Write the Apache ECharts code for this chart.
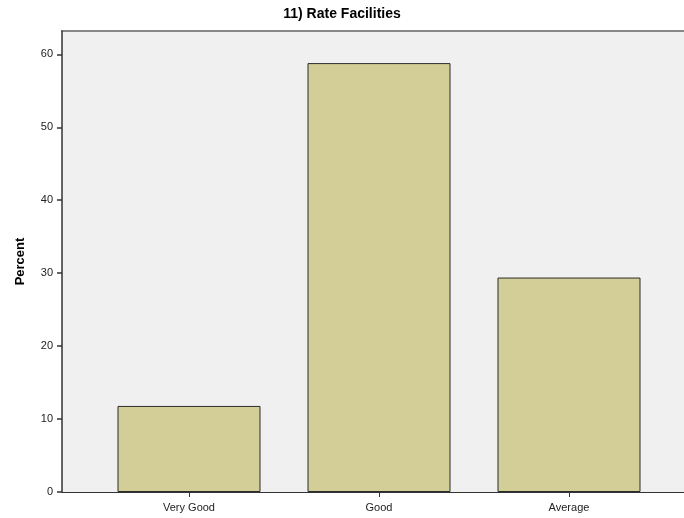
<!DOCTYPE html>
<html>
<head>
<meta charset="utf-8">
<script src="https://cdn.jsdelivr.net/npm/echarts@6/dist/echarts.min.js"></script>
<style>
html,body{margin:0;padding:0;background:#fff;}
#chart{width:684px;height:518px;}
</style>
</head>
<body>
<div id="chart"></div>
<script>
const categories = ["Very Good", "Good", "Average"];
const percentValues = [11.8, 58.8, 29.4];
const yTicks = [0, 10, 20, 30, 40, 50, 60];
const titleText = "11) Rate Facilities";
const yAxisName = "Percent";

const chart = echarts.init(document.getElementById('chart'), null, {renderer: 'canvas'});
const font = '"Liberation Sans", Arial, sans-serif';
chart.setOption({
  animation: false,
  backgroundColor: '#ffffff',
  title: {
    text: titleText,
    left: 'center',
    top: 2,
    textStyle: {fontFamily: font, fontSize: 14, fontWeight: 'bold', color: '#000'}
  },
  grid: [
    {left: 94, right: 20, top: 31, bottom: 26, containLabel: false, z: 2},
    {left: 62, right: 0, top: 31, bottom: 26, show: true, backgroundColor: '#f0f0f0', borderWidth: 0, z: 0}
  ],
  xAxis: [
    {
      type: 'category', gridIndex: 0, data: categories, z: 3,
      axisLine: {show: false},
      axisTick: {show: true, alignWithLabel: true, length: 5, lineStyle: {color: '#333'}},
      axisLabel: {fontFamily: font, fontSize: 11, color: '#222', margin: 10}
    },
    {
      type: 'value', gridIndex: 1, position: 'bottom', min: 0, max: 1, z: 3,
      axisLine: {show: true, lineStyle: {color: '#333', width: 1}},
      axisTick: {show: false}, axisLabel: {show: false}, splitLine: {show: false}
    },
    {
      type: 'value', gridIndex: 1, position: 'top', min: 0, max: 1, z: 3,
      axisLine: {show: true, lineStyle: {color: '#888', width: 2}},
      axisTick: {show: false}, axisLabel: {show: false}, splitLine: {show: false}
    }
  ],
  yAxis: [
    {
      type: 'value', gridIndex: 0, min: 0, max: 63.2, interval: 10, offset: 32, z: 6,
      name: yAxisName, nameLocation: 'middle', nameGap: 35, nameRotate: 90,
      nameTextStyle: {fontFamily: font, fontSize: 13, fontWeight: 'bold', color: '#000'},
      axisLine: {show: true, lineStyle: {color: '#333', width: 1.5}},
      axisTick: {show: true, length: 5, customValues: yTicks, lineStyle: {color: '#333', width: 1.5}},
      axisLabel: {
        fontFamily: font, fontSize: 11, color: '#222', margin: 9,
        customValues: yTicks
      },
      splitLine: {show: false}
    },
    {
      type: 'value', gridIndex: 1, min: 0, max: 1,
      axisLine: {show: false}, axisTick: {show: false}, axisLabel: {show: false}, splitLine: {show: false}
    }
  ],
  series: [
    {
      type: 'bar', xAxisIndex: 0, yAxisIndex: 0, data: percentValues,
      barWidth: 143, z: 5,
      itemStyle: {color: '#d3ce97', borderColor: '#2b2b2b', borderWidth: 1}
    }
  ]
});
</script>
</body>
</html>
